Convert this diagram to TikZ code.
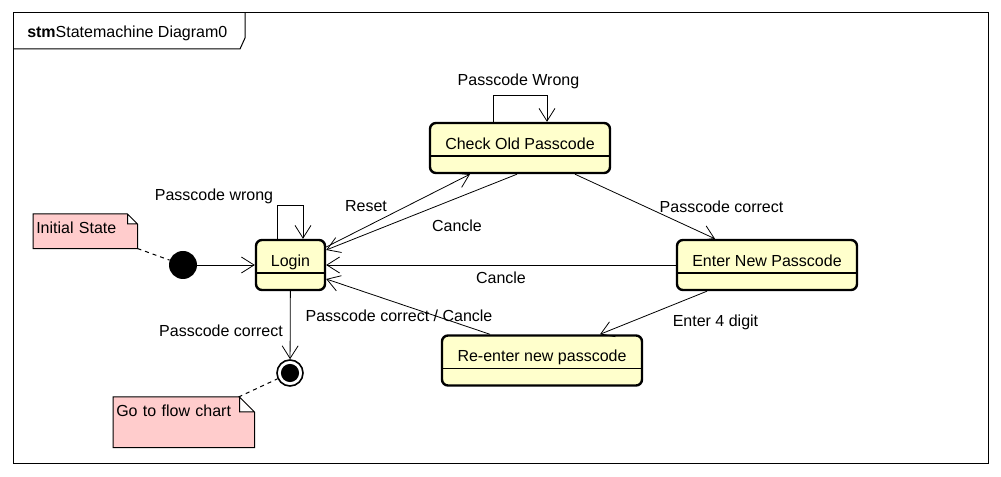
\documentclass[tikz,border=0pt]{standalone}
\usepackage{fontspec}
\setmainfont{Liberation Sans}
\usetikzlibrary{arrows.meta,calc,backgrounds}
\definecolor{statefill}{RGB}{255,255,204}
\definecolor{notefill}{RGB}{255,204,204}
\begin{document}
\begin{tikzpicture}[x=0.75pt,y=-0.75pt,
	every node/.style={font=\fontsize{12}{14}\selectfont},
	state/.style={draw,line width=1.8pt,rounded corners=4.5pt,fill=statefill,
		minimum height=37.5pt,inner sep=0pt,text height=10pt,text depth=8pt,
		path picture={\draw[line width=1pt] ([yshift=12.75pt]path picture bounding box.south west) -- ([yshift=12.75pt]path picture bounding box.south east);}},
	trans/.style={line width=0.6pt,-{Straight Barb[length=9.5pt,width=12pt]}},
	note/.style={inner xsep=2.25pt,inner ysep=0pt,align=left,text height=14.8pt,anchor=north west},
	lbl/.style={inner sep=0pt}]
\useasboundingbox (0,0) rectangle (1001,477);
\draw[line width=0.75pt] (13,13) rectangle (988,464);
\draw[line width=0.75pt] (13,49) -- (240,49) -- (245,38) -- (245,13);
\node[lbl,anchor=base west] (title) at (27,38) {\textbf{stm}Statemachine Diagram0};

\node[state,minimum width=51.75pt] (login) at (290.5,265) {Login};
\node[state,minimum width=135pt] (checkold) at (520,148) {Check Old Passcode};
\node[state,minimum width=135pt] (enternew) at (767,265) {Enter New Passcode};
\node[state,minimum width=150pt] (reenter) at (542,360.5) {Re-enter new passcode};
\node[circle,fill=black,minimum size=21pt,inner sep=0pt] (init) at (183,265) {};
\node[circle,draw,line width=1.2pt,fill=white,minimum size=19.5pt,inner sep=0pt,
	path picture={\fill[black] (path picture bounding box.center) circle (6.8pt);}] (final) at (290,373) {};

\node[note,text width=73.5pt,text depth=10.7pt] (ninit) at (33,214) {Initial State};
\node[note,text width=101.25pt,text depth=22.7pt] (nfinal) at (113,397) {Go to flow chart};
\begin{scope}[on background layer]
\foreach \n/\f in {ninit/10,nfinal/15}
	\filldraw[fill=notefill,line width=0.75pt] (\n.south west) -- (\n.north west) -- ($(\n.north east)+(-\f,0)$)
		-- ($(\n.north east)+(0,\f)$) -- (\n.south east) -- cycle
		($(\n.north east)+(-\f,0)$) -- ($(\n.north east)+(-\f,\f)$) -- ($(\n.north east)+(0,\f)$);
\end{scope}
\draw[dashed,line width=0.75pt] (ninit.south east) -- (init);
\draw[dashed,line width=0.75pt] ($(nfinal.north east)+(-16,0)$) -- (final);

\draw[trans] (init) -- (login);
\draw[trans] ($(login.north)+(-13.5,0)$) -- ++(0,-33) -| ($(login.north)+(12.5,0)$);
\draw[trans] (login) -- (final);
\draw[trans] ($(checkold.north)+(-27,0)$) -- ++(0,-26) -| ($(checkold.north)+(27,0)$);
\draw[trans] ($(login.east)+(0,-18)$) -- ($(checkold.south)+(-50,0)$);
\draw[trans] ($(checkold.south)+(-3,0)$) -- ($(login.east)+(0,-15)$);
\draw[trans] ($(checkold.south)+(55,0)$) -- ($(enternew.north)+(-52,0)$);
\draw[trans] (enternew) -- (login);
\draw[trans] ($(enternew.south)+(-60,0)$) -- ($(reenter.north)+(58,0)$);
\draw[trans] ($(reenter.north)+(-52,0)$) -- ($(login.east)+(0,14)$);

\node[lbl] (lwrong) at (214,196) {Passcode wrong};
\node[lbl] (lwrong2) at (518.5,81) {Passcode Wrong};
\node[lbl] (lreset) at (366,206) {Reset};
\node[lbl] (lcancle) at (457,226) {Cancle};
\node[lbl] (lcorrect) at (721.5,207) {Passcode correct};
\node[lbl] (lcancle2) at (501,278) {Cancle};
\node[lbl] (ldigit) at (715.5,322) {Enter 4 digit};
\node[lbl] (lback) at (399,316) {Passcode correct / Cancle};
\node[lbl] (lcorrect2) at (221,331) {Passcode correct};
\end{tikzpicture}
\end{document}
